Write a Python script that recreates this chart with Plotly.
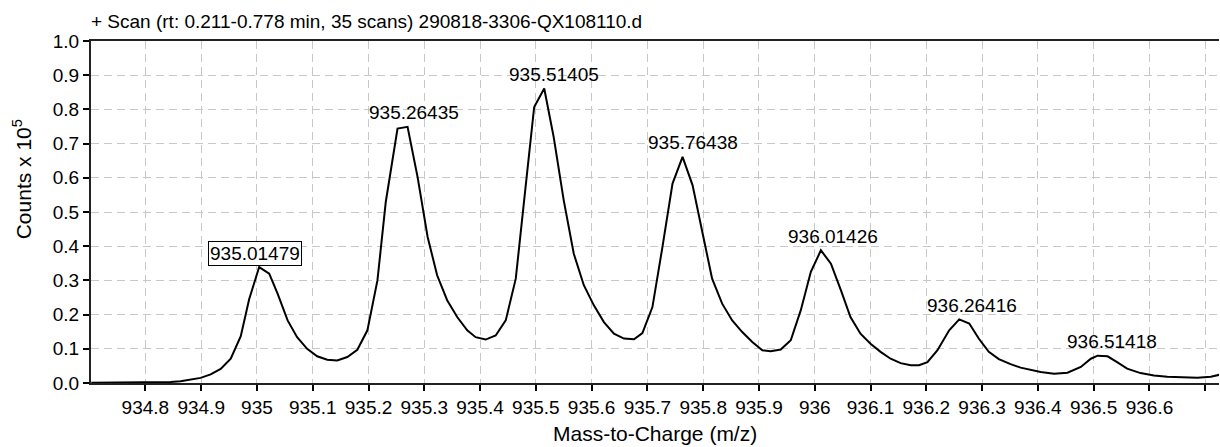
import plotly.graph_objects as go

# Profile spectrum: m/z and intensity (Counts x 10^5)
mz = [934.703, 934.756, 934.809, 934.845, 934.863, 934.881, 934.899, 934.917, 934.935, 934.953,
      934.971, 934.986, 935.004, 935.022, 935.037, 935.055, 935.072, 935.090, 935.108, 935.126,
      935.144, 935.162, 935.180, 935.198, 935.216, 935.231, 935.252, 935.270, 935.288, 935.306,
      935.323, 935.341, 935.359, 935.377, 935.392, 935.410, 935.428, 935.446, 935.464, 935.479,
      935.497, 935.515, 935.532, 935.550, 935.568, 935.586, 935.604, 935.622, 935.640, 935.658,
      935.676, 935.691, 935.709, 935.727, 935.745, 935.763, 935.781, 935.799, 935.816, 935.834,
      935.852, 935.870, 935.888, 935.906, 935.921, 935.939, 935.957, 935.975, 935.993, 936.011,
      936.029, 936.047, 936.064, 936.082, 936.100, 936.118, 936.136, 936.154, 936.172, 936.187,
      936.202, 936.220, 936.241, 936.259, 936.277, 936.294, 936.312, 936.330, 936.351, 936.369,
      936.405, 936.429, 936.453, 936.477, 936.495, 936.507, 936.525, 936.542, 936.560, 936.584,
      936.608, 936.632, 936.656, 936.686, 936.710, 936.728]

counts = [0.001, 0.001, 0.002, 0.003, 0.005, 0.009, 0.015, 0.025, 0.041, 0.071,
          0.137, 0.245, 0.339, 0.320, 0.261, 0.183, 0.134, 0.100, 0.078, 0.068,
          0.066, 0.076, 0.097, 0.154, 0.300, 0.530, 0.744, 0.749, 0.602, 0.427,
          0.315, 0.242, 0.193, 0.154, 0.134, 0.127, 0.139, 0.183, 0.305, 0.534,
          0.807, 0.861, 0.719, 0.534, 0.378, 0.286, 0.227, 0.178, 0.144, 0.130,
          0.128, 0.146, 0.222, 0.398, 0.583, 0.661, 0.578, 0.437, 0.305, 0.232,
          0.183, 0.149, 0.120, 0.096, 0.093, 0.098, 0.125, 0.213, 0.325, 0.388,
          0.349, 0.271, 0.193, 0.144, 0.115, 0.091, 0.071, 0.058, 0.052, 0.052,
          0.061, 0.096, 0.154, 0.186, 0.174, 0.130, 0.091, 0.070, 0.055, 0.045,
          0.032, 0.027, 0.030, 0.047, 0.071, 0.080, 0.078, 0.061, 0.042, 0.029,
          0.022, 0.018, 0.016, 0.015, 0.018, 0.025]

# Labelled peak centroids and their apex heights
peak_mz = [935.01479, 935.26435, 935.51405, 935.76438, 936.01426, 936.26416, 936.51418]
peak_counts = [0.339, 0.749, 0.861, 0.661, 0.388, 0.186, 0.080]
boxed_peak = 935.01479

# Axis ticks (the last x tick at 936.7 carries no label)
x_ticks = [934.8, 934.9, 935.0, 935.1, 935.2, 935.3, 935.4, 935.5, 935.6, 935.7,
           935.8, 935.9, 936.0, 936.1, 936.2, 936.3, 936.4, 936.5, 936.6]
x_tick_text = ["934.8", "934.9", "935", "935.1", "935.2", "935.3", "935.4", "935.5", "935.6",
               "935.7", "935.8", "935.9", "936", "936.1", "936.2", "936.3", "936.4", "936.5",
               "936.6"]
x_unlabelled_ticks = [936.7]
y_ticks = [0.0, 0.1, 0.2, 0.3, 0.4, 0.5, 0.6, 0.7, 0.8, 0.9, 1.0]

title_text = "+ Scan (rt: 0.211-0.778 min, 35 scans) 290818-3306-QX108110.d"
FONT = "Liberation Sans, Arial, sans-serif"
GRID = "#c8c8c8"
DASH = "8px,5px"

fig = go.Figure()
fig.add_trace(go.Scatter(x=mz, y=counts, mode="lines",
                         line=dict(color="black", width=2), hoverinfo="x+y",
                         showlegend=False))

annotations = []
for m, c in zip(peak_mz, peak_counts):
    boxed = (m == boxed_peak)
    annotations.append(dict(
        x=m, y=c, xref="x", yref="y", text=f"{m:.5f}", showarrow=False,
        xanchor="center", yanchor="middle", xshift=-10 if boxed else 10, yshift=14,
        font=dict(family=FONT, size=19, color="black"),
        bordercolor="black" if boxed else None, borderwidth=1 if boxed else 0,
        borderpad=1, bgcolor="white" if boxed else None,
    ))

# Axis titles
annotations.append(dict(x=0, y=0.5956, xref="paper", yref="paper", xshift=-69,
                        text="Counts x 10<sup>5</sup>", textangle=-90, showarrow=False,
                        xanchor="center", yanchor="middle",
                        font=dict(family=FONT, size=21, color="black")))
annotations.append(dict(x=0.5, y=0, xref="paper", yref="paper", yshift=-50,
                        text="Mass-to-Charge (m/z)", showarrow=False,
                        xanchor="center", yanchor="middle",
                        font=dict(family=FONT, size=21, color="black")))

fig.update_layout(
    width=1220, height=447,
    margin=dict(l=91, r=1, t=41, b=64),
    paper_bgcolor="white", plot_bgcolor="white",
    title=dict(text=title_text, x=0, xref="paper", xanchor="left",
               y=1 - 21.5 / 447, yref="container", yanchor="middle",
               font=dict(family=FONT, size=19, color="black")),
    font=dict(family=FONT, size=19, color="black"),
    annotations=annotations,
    xaxis=dict(range=[934.7025, 936.7247], tickmode="array", tickvals=x_ticks,
               ticktext=x_tick_text, ticks="outside", ticklen=6, tickwidth=1.5,
               tickcolor="black", showline=True, linecolor="#222", linewidth=2,
               mirror=True, showgrid=True, gridcolor=GRID, gridwidth=1,
               griddash=DASH, zeroline=False,
               minor=dict(tickmode="array", tickvals=x_unlabelled_ticks, ticks="outside",
                          ticklen=6, tickwidth=1.5, tickcolor="black", showgrid=True,
                          gridcolor=GRID, gridwidth=1, griddash=DASH),
               tickfont=dict(family=FONT, size=19, color="black")),
    yaxis=dict(range=[0, 1.0], tickmode="array", tickvals=y_ticks,
               tickformat=".1f", ticks="outside", ticklen=6, tickwidth=1.5,
               tickcolor="black", showline=True, linecolor="#222", linewidth=2,
               showgrid=True, gridcolor=GRID, gridwidth=1,
               griddash=DASH, zeroline=False,
               tickfont=dict(family=FONT, size=19, color="black")),
)

fig.write_html("out.html")
